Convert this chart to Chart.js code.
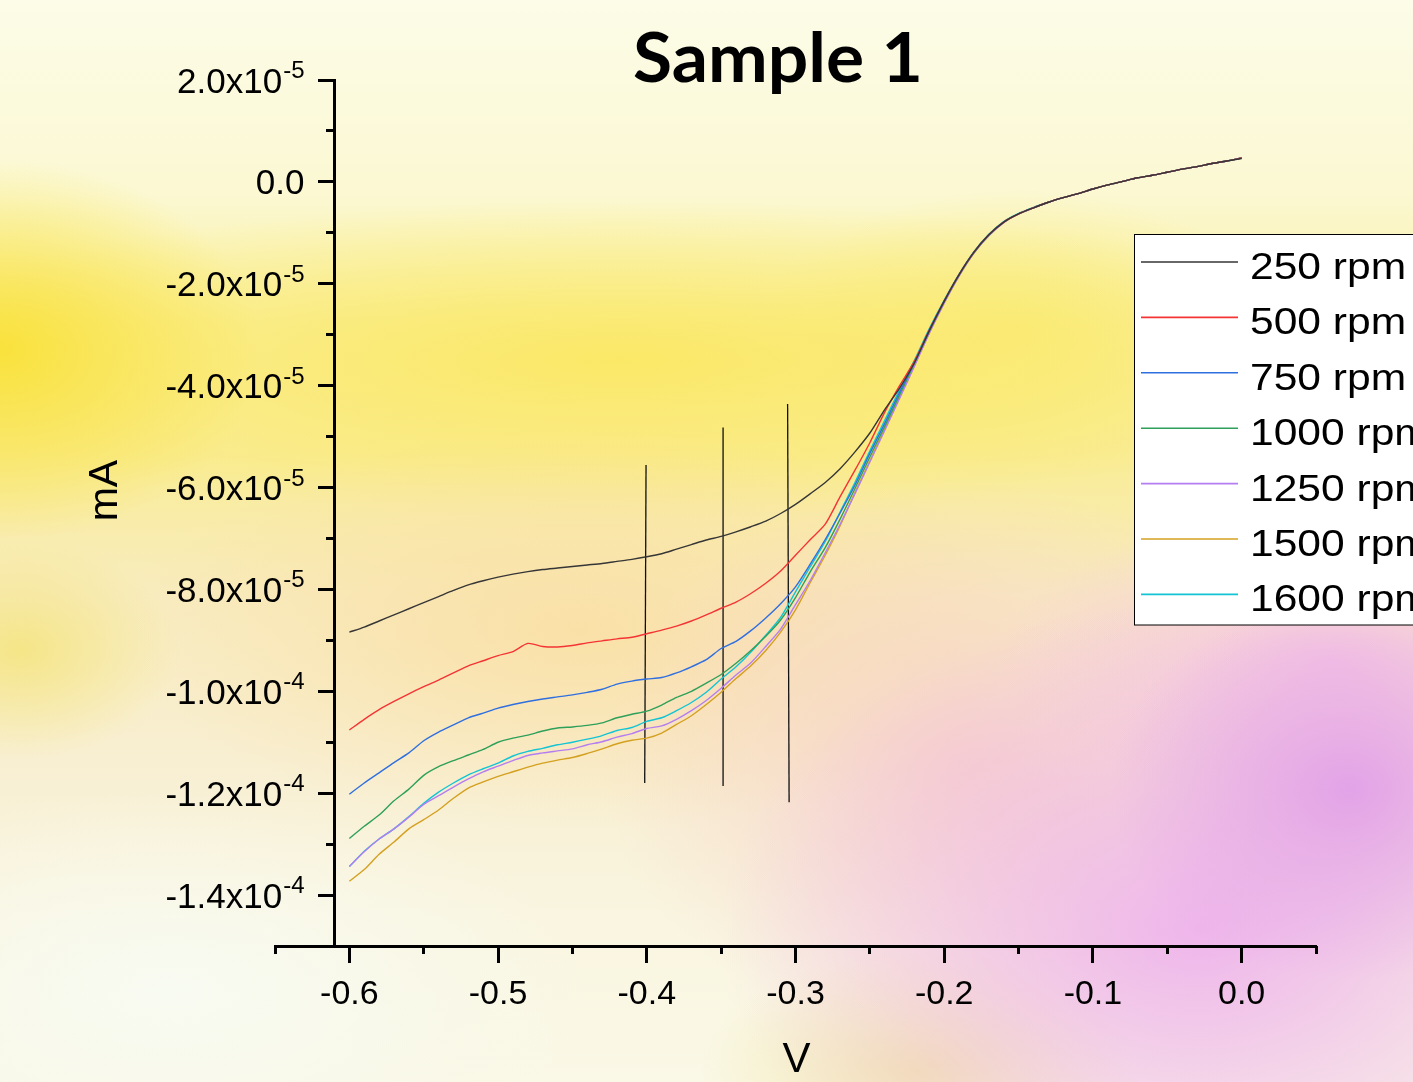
<!DOCTYPE html>
<html>
<head>
<meta charset="utf-8">
<script src="https://cdn.jsdelivr.net/npm/chart.js@4/dist/chart.umd.min.js"></script>
<style>
html, body { margin: 0; padding: 0; width: 1413px; height: 1082px; overflow: hidden; }
body {
  background:
    radial-gradient(ellipse 240px 190px at 1350px 790px, rgba(226,160,232,0.95), rgba(226,160,232,0)),
    radial-gradient(ellipse 480px 330px at 1200px 930px, rgba(238,178,236,0.95), rgba(238,178,236,0)),
    radial-gradient(ellipse 330px 150px at 1330px 660px, rgba(246,196,228,0.9), rgba(246,196,228,0)),
    radial-gradient(ellipse 360px 280px at 960px 760px, rgba(247,208,200,0.85), rgba(247,208,200,0)),
    radial-gradient(ellipse 460px 200px at 580px 630px, rgba(250,222,162,0.85), rgba(250,222,162,0)),
    radial-gradient(ellipse 220px 120px at 920px 1070px, rgba(240,224,150,0.7), rgba(240,224,150,0)),
    radial-gradient(ellipse 160px 110px at 20px 650px, rgba(244,228,120,0.8), rgba(244,228,120,0)),
    radial-gradient(ellipse 260px 190px at 0px 350px, rgba(249,226,60,1), rgba(249,226,60,0)),
    radial-gradient(ellipse 760px 160px at 620px 360px, rgba(251,232,100,0.95), rgba(251,232,100,0)),
    radial-gradient(ellipse 260px 140px at 1020px 330px, rgba(250,236,120,0.8), rgba(250,236,120,0)),
    radial-gradient(ellipse 420px 200px at 170px 990px, rgba(248,251,242,1), rgba(248,251,242,0)),
    linear-gradient(180deg, #fcfce8 0%, #fbf8d2 18%, #f9ef9e 30%, #f9ec96 42%, #f8ecc0 55%, #f8efd2 70%, #f9f5e0 85%, #faf8e6 100%);
}
canvas { display: block; }
</style>
</head>
<body>
<canvas id="chart" width="1413" height="1082"></canvas>
<script>
// ---------- data ----------
const chartTitle = 'Sample 1';
const xTitle = 'V';
const yTitle = 'mA';
const seriesLabels = ['250 rpm', '500 rpm', '750 rpm', '1000 rpm', '1250 rpm', '1500 rpm', '1600 rpm'];
const seriesColors = ['#363636', '#f43434', '#2f6fe0', '#2ea05a', '#b47ef0', '#d4a020', '#12c4d4'];
const yUnit = 1e-5; // series values below are in units of 1e-5 mA

const voltage = [
  -0.60, -0.59, -0.58, -0.57, -0.56, -0.55, -0.54, -0.53, -0.52, -0.51,
  -0.50, -0.49, -0.48, -0.47, -0.46, -0.45, -0.44, -0.43, -0.42, -0.41,
  -0.40, -0.39, -0.38, -0.37, -0.36, -0.35, -0.34, -0.33, -0.32, -0.31,
  -0.30, -0.29, -0.28, -0.27, -0.26, -0.25, -0.24, -0.23, -0.22, -0.21,
  -0.20, -0.19, -0.18, -0.17, -0.16, -0.15, -0.14, -0.13, -0.12, -0.11,
  -0.10, -0.09, -0.08, -0.07, -0.06, -0.05, -0.04, -0.03, -0.02, -0.01,
  0.00
];

const i250 = [
  -8.84, -8.74, -8.62, -8.50, -8.38, -8.26, -8.14, -8.02, -7.91, -7.83,
  -7.76, -7.70, -7.65, -7.61, -7.58, -7.55, -7.52, -7.49, -7.45, -7.41,
  -7.36, -7.30, -7.21, -7.12, -7.03, -6.96, -6.87, -6.77, -6.66, -6.51,
  -6.33, -6.12, -5.90, -5.63, -5.30, -4.93, -4.47, -4.05, -3.55, -2.92,
  -2.34, -1.82, -1.38, -1.04, -0.79, -0.63, -0.51, -0.40, -0.31, -0.23,
  -0.14, -0.06, 0.01, 0.08, 0.13, 0.19, 0.25, 0.30, 0.36, 0.41,
  0.46
];
const i500 = [
  -10.76, -10.55, -10.36, -10.20, -10.05, -9.91, -9.78, -9.64, -9.50, -9.40,
  -9.30, -9.22, -9.06, -9.12, -9.13, -9.10, -9.05, -9.01, -8.97, -8.94,
  -8.87, -8.80, -8.72, -8.62, -8.50, -8.37, -8.25, -8.08, -7.88, -7.64,
  -7.33, -7.02, -6.72, -6.18, -5.66, -5.12, -4.52, -4.00, -3.52, -2.91,
  -2.34, -1.82, -1.38, -1.04, -0.79, -0.63, -0.51, -0.40, -0.31, -0.23,
  -0.14, -0.06, 0.01, 0.08, 0.13, 0.19, 0.25, 0.30, 0.36, 0.41,
  0.47
];
const i750 = [
  -12.02, -11.80, -11.60, -11.40, -11.21, -10.97, -10.80, -10.66, -10.52, -10.43,
  -10.33, -10.26, -10.20, -10.15, -10.11, -10.07, -10.02, -9.96, -9.86, -9.80,
  -9.76, -9.73, -9.64, -9.52, -9.38, -9.16, -9.02, -8.81, -8.56, -8.28,
  -7.95, -7.50, -7.02, -6.50, -5.95, -5.33, -4.74, -4.13, -3.54, -2.91,
  -2.34, -1.82, -1.38, -1.04, -0.79, -0.63, -0.51, -0.40, -0.31, -0.23,
  -0.14, -0.06, 0.01, 0.08, 0.13, 0.19, 0.25, 0.30, 0.36, 0.41,
  0.47
];
const i1000 = [
  -12.89, -12.65, -12.43, -12.15, -11.92, -11.65, -11.48, -11.36, -11.25, -11.14,
  -11.00, -10.92, -10.86, -10.78, -10.72, -10.70, -10.67, -10.62, -10.52, -10.45,
  -10.39, -10.27, -10.12, -10.00, -9.84, -9.67, -9.45, -9.20, -8.92, -8.60,
  -8.16, -7.65, -7.18, -6.62, -6.02, -5.40, -4.80, -4.18, -3.56, -2.93,
  -2.35, -1.83, -1.39, -1.05, -0.79, -0.63, -0.51, -0.40, -0.31, -0.23,
  -0.14, -0.06, 0.01, 0.08, 0.13, 0.19, 0.25, 0.30, 0.36, 0.41,
  0.47
];
const i1250 = [
  -13.44, -13.15, -12.90, -12.70, -12.47, -12.22, -12.05, -11.88, -11.72, -11.58,
  -11.47, -11.36, -11.26, -11.21, -11.17, -11.13, -11.05, -10.99, -10.90, -10.83,
  -10.73, -10.68, -10.55, -10.38, -10.18, -9.94, -9.68, -9.44, -9.12, -8.78,
  -8.30, -7.82, -7.28, -6.72, -6.12, -5.50, -4.88, -4.25, -3.62, -2.97,
  -2.38, -1.85, -1.40, -1.06, -0.80, -0.63, -0.51, -0.40, -0.31, -0.23,
  -0.14, -0.06, 0.01, 0.08, 0.13, 0.19, 0.25, 0.30, 0.36, 0.41,
  0.47
];
const i1500 = [
  -13.73, -13.50, -13.20, -12.96, -12.70, -12.52, -12.33, -12.10, -11.90, -11.78,
  -11.67, -11.58, -11.49, -11.41, -11.35, -11.30, -11.22, -11.13, -11.03, -10.96,
  -10.92, -10.82, -10.65, -10.48, -10.26, -10.02, -9.75, -9.50, -9.20, -8.84,
  -8.40, -7.86, -7.33, -6.75, -6.10, -5.48, -4.85, -4.22, -3.60, -2.96,
  -2.37, -1.84, -1.40, -1.05, -0.80, -0.63, -0.51, -0.40, -0.31, -0.23,
  -0.14, -0.06, 0.01, 0.08, 0.13, 0.19, 0.25, 0.30, 0.36, 0.41,
  0.47
];
const i1600 = [
  -13.44, -13.14, -12.90, -12.70, -12.46, -12.20, -11.98, -11.80, -11.64, -11.52,
  -11.41, -11.27, -11.18, -11.12, -11.05, -11.00, -10.94, -10.87, -10.77, -10.71,
  -10.59, -10.52, -10.38, -10.22, -10.02, -9.76, -9.52, -9.23, -8.90, -8.55,
  -8.05, -7.55, -7.06, -6.48, -5.90, -5.28, -4.68, -4.08, -3.50, -2.88,
  -2.32, -1.81, -1.37, -1.03, -0.78, -0.62, -0.50, -0.40, -0.31, -0.23,
  -0.14, -0.06, 0.01, 0.08, 0.13, 0.19, 0.25, 0.30, 0.36, 0.41,
  0.47
];
const seriesValues = [i250, i500, i750, i1000, i1250, i1500, i1600];

// vertical marker lines (x at top/bottom, y at top/bottom in 1e-5 mA)
const markerX = [[-0.4005, -0.4014], [-0.3487, -0.3487], [-0.3053, -0.3043]];
const markerY = [[-5.56, -11.80], [-4.82, -11.86], [-4.36, -12.18]];

// axes
const xRange = [-0.65, 0.05];
const yRange = [-1.5e-4, 2e-5];
const yAxisCrossAt = -0.61;
const xMajorTicks = [-0.6, -0.5, -0.4, -0.3, -0.2, -0.1, 0.0];
const xMinorTicks = [-0.65, -0.55, -0.45, -0.35, -0.25, -0.15, -0.05, 0.05];
const yMajorTicks = [2e-5, 0, -2e-5, -4e-5, -6e-5, -8e-5, -1e-4, -1.2e-4, -1.4e-4];
const yMinorTicks = [1e-5, -1e-5, -3e-5, -5e-5, -7e-5, -9e-5, -1.1e-4, -1.3e-4];

// ---------- chart ----------
const FONT = '"Liberation Sans", Arial, sans-serif';

function sciParts(v) {
  if (v === 0) return ['0.0', ''];
  const e = Math.floor(Math.log10(Math.abs(v)) + 1e-9);
  const m = v / Math.pow(10, e);
  return [m.toFixed(1) + 'x10', String(e)];
}

const datasets = seriesValues.map((vals, k) => ({
  label: seriesLabels[k],
  data: voltage.map((x, i) => ({ x: x, y: vals[i] * yUnit })),
  borderColor: seriesColors[k],
  borderWidth: 1.4,
  pointRadius: 0,
  fill: false,
  tension: 0.25
}));
markerX.forEach((mx, k) => {
  datasets.push({
    label: '',
    data: [{ x: mx[0], y: markerY[k][0] * yUnit }, { x: mx[1], y: markerY[k][1] * yUnit }],
    borderColor: '#111111',
    borderWidth: 1.3,
    pointRadius: 0,
    fill: false
  });
});

function setTicks(arr) {
  return function (axis) { axis.ticks = arr.map(v => ({ value: v })); };
}

const decorPlugin = {
  id: 'decor',
  afterDraw(chart) {
    const ctx = chart.ctx;
    const xs = chart.scales.x, ys = chart.scales.y;
    const axisX = xs.getPixelForValue(yAxisCrossAt);
    ctx.save();
    ctx.fillStyle = '#000';

    // y tick labels with superscript exponent
    const rightEdge = axisX - 30;
    yMajorTicks.forEach(v => {
      const py = ys.getPixelForValue(v);
      const [main, sup] = sciParts(v);
      ctx.textAlign = 'right';
      ctx.textBaseline = 'alphabetic';
      let supW = 0;
      if (sup) {
        ctx.font = '24px ' + FONT;
        supW = ctx.measureText(sup).width + 1;
        ctx.fillText(sup, rightEdge, py - 2);
      }
      ctx.font = '35px ' + FONT;
      ctx.fillText(main, rightEdge - supW, py + 12.5);
    });

    // x tick labels
    ctx.font = '34px ' + FONT;
    ctx.textAlign = 'center';
    ctx.textBaseline = 'alphabetic';
    const axisY = ys.getPixelForValue(yRange[0]);
    xMajorTicks.forEach(v => {
      ctx.fillText(v.toFixed(1), xs.getPixelForValue(v), axisY + 58);
    });

    // axis titles
    ctx.font = '42px ' + FONT;
    ctx.fillText(xTitle, xs.getPixelForValue(-0.3) + 1, axisY + 126);
    ctx.save();
    ctx.translate(117, ys.getPixelForValue(-6e-5) + 3);
    ctx.rotate(-Math.PI / 2);
    ctx.font = '41px ' + FONT;
    ctx.textAlign = 'center';
    ctx.fillText(yTitle, 0, 0);
    ctx.restore();

    // title
    ctx.font = 'bold 68px Lato, "Open Sans", sans-serif';
    ctx.textAlign = 'center';
    ctx.save();
    ctx.translate(778, 82);
    ctx.scale(1.05, 1);
    ctx.fillText(chartTitle, 0, 0);
    ctx.restore();

    // legend
    const lx = 1134.5, ly = 234.5, lh = 390.5, rowH = 55.4;
    ctx.fillStyle = '#ffffff';
    ctx.fillRect(lx, ly, 400, lh);
    ctx.strokeStyle = '#000';
    ctx.lineWidth = 1;
    ctx.strokeRect(lx, ly, 400, lh);
    seriesLabels.forEach((lab, k) => {
      const yy = 262 + k * rowH;
      ctx.strokeStyle = seriesColors[k];
      ctx.lineWidth = 1.6;
      ctx.beginPath();
      ctx.moveTo(1141, yy);
      ctx.lineTo(1238, yy);
      ctx.stroke();
      ctx.fillStyle = '#000';
      ctx.save();
      ctx.translate(1250, yy + 17);
      ctx.scale(1.15, 1);
      ctx.font = '37px ' + FONT;
      ctx.textAlign = 'left';
      ctx.fillText(lab, 0, 0);
      ctx.restore();
    });
    ctx.restore();
  }
};

new Chart(document.getElementById('chart'), {
  type: 'line',
  data: { datasets: datasets },
  options: {
    responsive: false,
    animation: false,
    events: [],
    layout: { padding: { left: 275, right: 97, top: 80, bottom: 136 } },
    plugins: { legend: { display: false }, title: { display: false }, tooltip: { enabled: false } },
    scales: {
      x: {
        type: 'linear', axis: 'x', min: xRange[0], max: xRange[1],
        position: { y: yRange[0] },
        afterBuildTicks: setTicks(xMajorTicks),
        ticks: { display: false },
        grid: { drawOnChartArea: false, drawTicks: true, tickLength: 15, tickWidth: 3, tickColor: '#000' },
        border: { display: true, width: 3, color: '#000' }
      },
      x2: {
        type: 'linear', axis: 'x', min: xRange[0], max: xRange[1],
        position: { y: yRange[0] },
        afterBuildTicks: setTicks(xMinorTicks),
        ticks: { display: false },
        grid: { drawOnChartArea: false, drawTicks: true, tickLength: 8, tickWidth: 3, tickColor: '#000' },
        border: { display: false }
      },
      y: {
        type: 'linear', axis: 'y', min: yRange[0], max: yRange[1],
        position: { x: yAxisCrossAt },
        afterBuildTicks: setTicks(yMajorTicks),
        ticks: { display: false },
        grid: { drawOnChartArea: false, drawTicks: true, tickLength: 15, tickWidth: 3, tickColor: '#000' },
        border: { display: true, width: 3, color: '#000' }
      },
      y2: {
        type: 'linear', axis: 'y', min: yRange[0], max: yRange[1],
        position: { x: yAxisCrossAt },
        afterBuildTicks: setTicks(yMinorTicks),
        ticks: { display: false },
        grid: { drawOnChartArea: false, drawTicks: true, tickLength: 8, tickWidth: 3, tickColor: '#000' },
        border: { display: false }
      }
    }
  },
  plugins: [decorPlugin]
});
</script>
</body>
</html>
